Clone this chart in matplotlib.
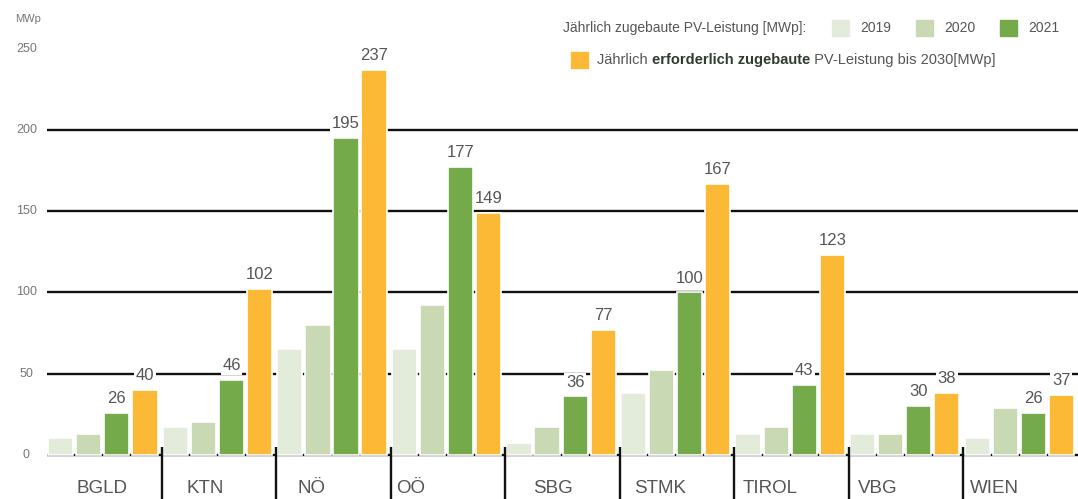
import numpy as np
import matplotlib.pyplot as plt
from matplotlib import font_manager
from matplotlib.patches import Rectangle

REGIONS = ["BGLD", "KTN", "NÖ", "OÖ", "SBG", "STMK", "TIROL", "VBG", "WIEN"]
PV_2019 = [10.5, 17, 65, 65, 7.5, 38, 13, 13, 10.5]
PV_2020 = [13, 20, 80, 92, 17, 52.5, 17, 13, 29]
PV_2021 = [26, 46, 195, 177, 36, 100, 43, 30, 26]
PV_2030 = [40, 102, 237, 149, 77, 167, 123, 38, 37]
Y_TICKS = [0, 50, 100, 150, 200, 250]

# where each region name sits inside its group (fraction of group width)
LABEL_POS = [0.48, 0.38, 0.31, 0.17, 0.42, 0.35, 0.31, 0.25, 0.27]

COLORS = {"2019": "#e3ebda", "2020": "#c9d9b4", "2021": "#74aa4a", "2030": "#fbb935"}
TEXT_GRAY = "#555555"

names = {f.name for f in font_manager.fontManager.ttflist}
if "Liberation Sans Narrow" in names:
    plt.rcParams["font.family"] = ["Liberation Sans Narrow", "DejaVu Sans"]
else:
    plt.rcParams["font.family"] = ["Liberation Sans", "DejaVu Sans"]

fig = plt.figure(figsize=(10.78, 4.99), dpi=100)
ax = fig.add_axes([47 / 1078, 0, 1 - 47 / 1078, 1])
ax.set_xlim(0, 9)
ax.set_ylim(-27.1, 280)
ax.axis("off")

x = np.arange(len(REGIONS))
width = 0.22
series = [("2019", PV_2019), ("2020", PV_2020), ("2021", PV_2021), ("2030", PV_2030)]

# gridlines behind bars
for yv in Y_TICKS[:-1]:
    ax.hlines(yv, 0, 9, color="#111111", lw=1.7, zorder=1)

for i, (name, vals) in enumerate(series):
    pos = x + 0.12 + 0.245 * i
    ax.bar(pos, vals, width, color=COLORS[name], edgecolor="white", linewidth=1.2, zorder=2)
    if name in ("2021", "2030"):
        for p, v in zip(pos, vals):
            ax.annotate(f"{v:.0f}", (p, v), xytext=(0, 5), textcoords="offset points",
                        ha="center", va="bottom", fontsize=12, color=TEXT_GRAY,
                        bbox=dict(boxstyle="square,pad=0.1", fc="white", ec="none"),
                        zorder=3, annotation_clip=False)

# group separators
ax.vlines(np.arange(1, 9), -27.1, 5, color="#111111", lw=1.7, zorder=3)

for k, r in enumerate(REGIONS):
    ax.text(k + LABEL_POS[k], -20.5, r, ha="center", va="center", fontsize=13.5,
            color=TEXT_GRAY)

for t in Y_TICKS:
    ax.text(-0.18, t, str(t), ha="center", va="center", fontsize=9, color="#777777")
ax.text(-0.165, 268.5, "MWp", ha="center", va="center", fontsize=8, color="#777777")

# legend
def px(xp, yp):
    return xp / 1078, 1 - yp / 499

fig.text(*px(563, 28), "Jährlich zugebaute PV-Leistung [MWp]:", ha="left", va="center",
         fontsize=10, color=TEXT_GRAY)
for xs, lab in [(832, "2019"), (916, "2020"), (1000, "2021")]:
    x0, y0 = px(xs, 36)
    fig.patches.append(Rectangle((x0, y0), 17 / 1078, 16 / 499, transform=fig.transFigure,
                                 color=COLORS[lab]))
    fig.text(*px(xs + 28, 28), lab, ha="left", va="center", fontsize=10, color=TEXT_GRAY)

x0, y0 = px(571, 68)
fig.patches.append(Rectangle((x0, y0), 17 / 1078, 16 / 499, transform=fig.transFigure,
                             color=COLORS["2030"]))
t1 = fig.text(*px(597, 60), "Jährlich ", ha="left", va="center", fontsize=10.5, color=TEXT_GRAY)
t2 = ax.annotate("erforderlich zugebaute", xycoords=t1, xy=(1, 0.5), va="center",
                 fontsize=10.5, color="#2f3b30", fontweight="bold", annotation_clip=False)
t3 = ax.annotate(" PV-Leistung bis 2030[MWp]", xycoords=t2, xy=(1, 0.5), va="center",
                 fontsize=10.5, color=TEXT_GRAY, annotation_clip=False)

fig.savefig("out.png", dpi=100)
